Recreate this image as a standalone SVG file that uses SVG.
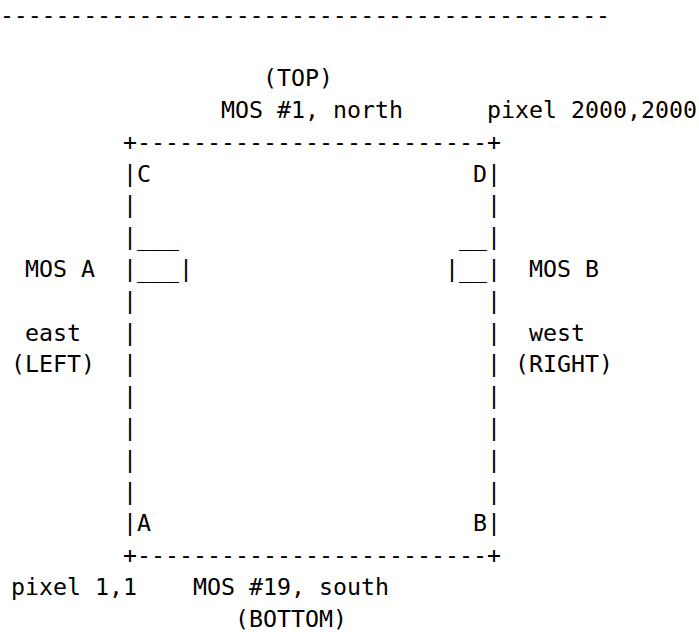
<svg xmlns="http://www.w3.org/2000/svg" width="699" height="632" viewBox="0 0 699 632">
<style>
text{font-family:"DejaVu Sans Mono","Liberation Mono",monospace;font-size:23.25px;fill:#000;white-space:pre}
</style>
<rect width="699" height="632" fill="#fff"/>
<g id="rule"><text x="0" y="22.5" textLength="610" lengthAdjust="spacing">--------------------------------------------</text></g>
<g id="top-labels">
<text x="263" y="86.1">(TOP)</text>
<text x="221" y="117.9">MOS #1, north</text>
<text x="487" y="117.9">pixel 2000,2000</text>
</g>
<g id="box">
<text x="123" y="149.7">+-------------------------+</text>
<text x="123" y="181.5">|C</text><text x="473" y="181.5">D|</text>
<text x="123" y="213.3">|</text><text x="487" y="213.3">|</text>
<text x="123" y="245.1">|___</text><text x="459" y="245.1">__|</text>
<text x="123" y="276.9">|___|</text><text x="445" y="276.9">|__|</text>
<text x="123" y="308.7">|</text><text x="487" y="308.7">|</text>
<text x="123" y="340.5">|</text><text x="487" y="340.5">|</text>
<text x="123" y="372.3">|</text><text x="487" y="372.3">|</text>
<text x="123" y="404.1">|</text><text x="487" y="404.1">|</text>
<text x="123" y="435.9">|</text><text x="487" y="435.9">|</text>
<text x="123" y="467.7">|</text><text x="487" y="467.7">|</text>
<text x="123" y="499.5">|</text><text x="487" y="499.5">|</text>
<text x="123" y="531.3">|A</text><text x="473" y="531.3">B|</text>
<text x="123" y="563.1">+-------------------------+</text>
</g>
<g id="left-labels">
<text x="25" y="276.9">MOS A</text>
<text x="25" y="340.5">east</text>
<text x="11" y="372.3">(LEFT)</text>
</g>
<g id="right-labels">
<text x="529" y="276.9">MOS B</text>
<text x="529" y="340.5">west</text>
<text x="515" y="372.3">(RIGHT)</text>
</g>
<g id="bottom-labels">
<text x="11" y="594.9">pixel 1,1</text>
<text x="193" y="594.9">MOS #19, south</text>
<text x="235" y="626.7">(BOTTOM)</text>
</g>
</svg>
